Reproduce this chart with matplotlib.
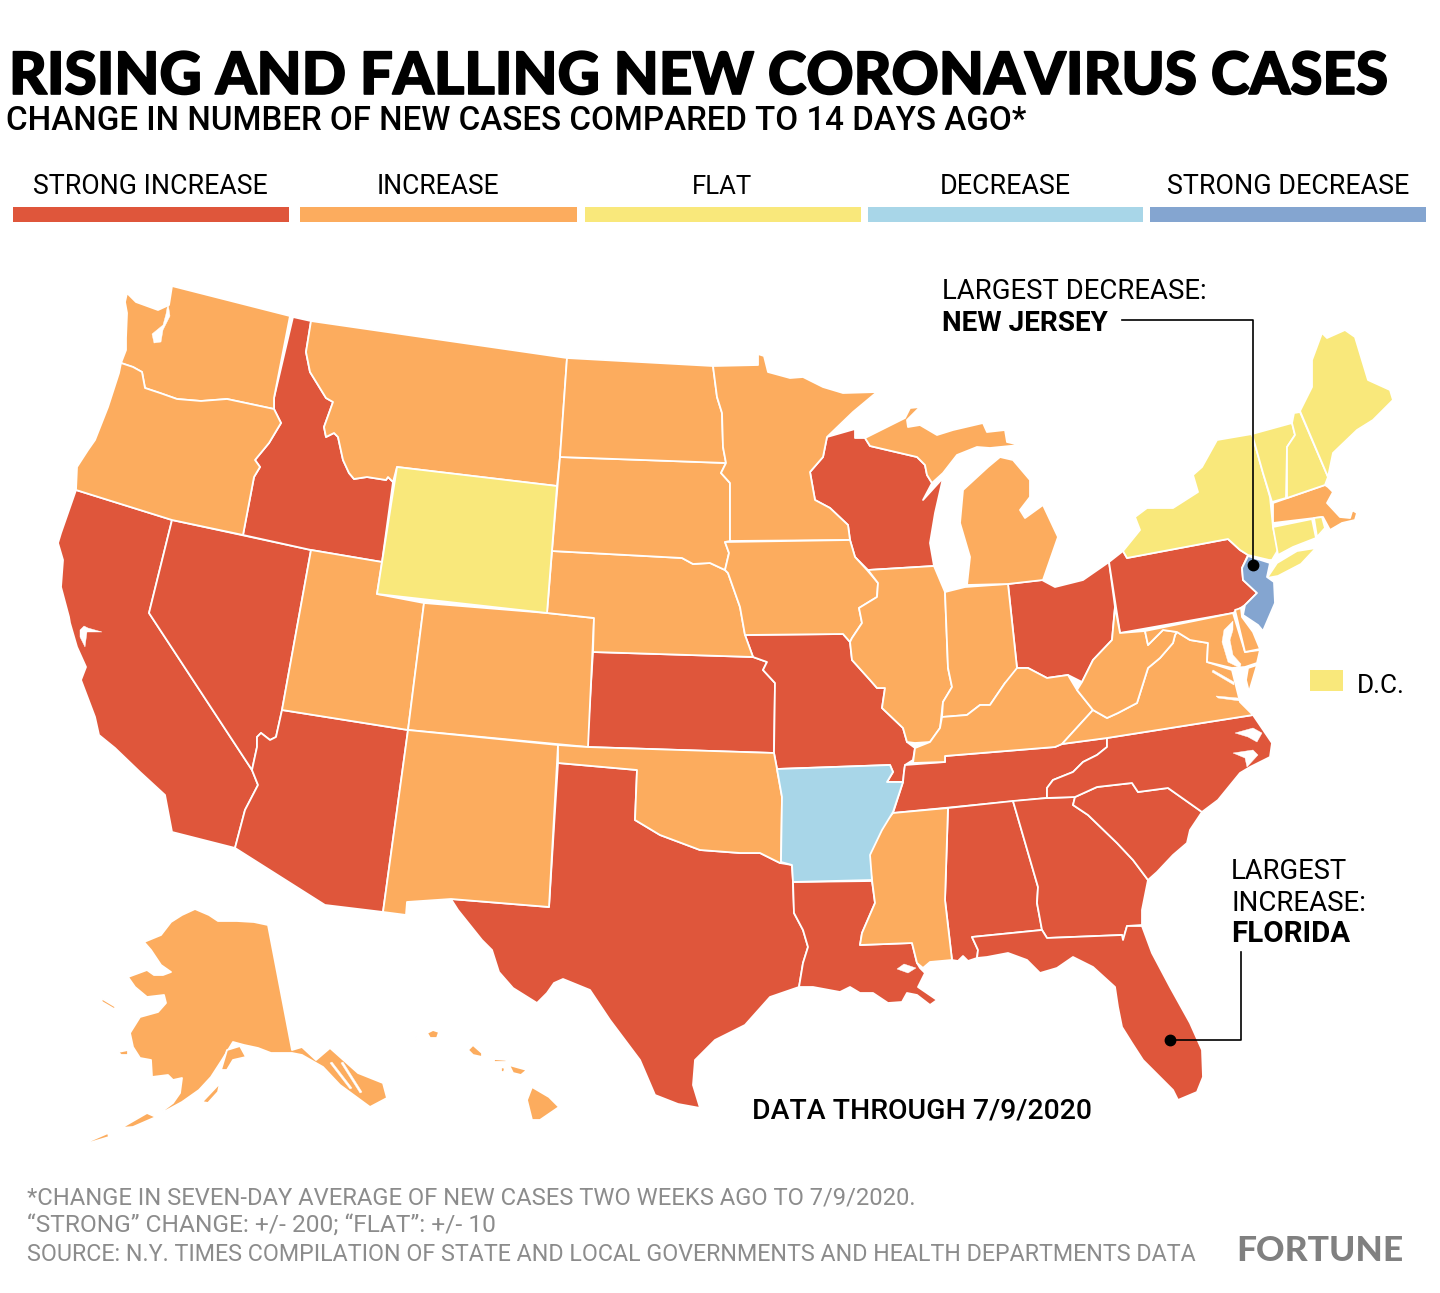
import matplotlib
matplotlib.use('Agg')
import matplotlib.pyplot as plt
import matplotlib.patheffects as pe

WA = [(127,293),(136,302),(158,310),(169,305),(172,286),
      (290,316),(274,398),(274,409),(227,399),(201,401),(177,399),(160,393),(145,388),(142,372),(133,367),(121,363),(126,350),(126,338),(127,313),(125,302)]
OR = [(121,363),(133,367),(142,372),(145,388),(160,393),(177,399),(201,401),(227,399),(274,409),(281,423),(269,443),(255,460),(260,467),(254,477),(243,535),
      (172,520),(76,490),(77,467),(88,450),(95,440),(108,407),(119,373)]
CA = [(76,490),(172,520),(149,613),(252,770),(258,785),(245,810),(235,848),(172,832),(165,795),(140,772),(115,748),(99,735),(95,717),(81,680),(86,667),(77,647),(70,623),(69,617),(61,587),(63,560),(58,543),(61,533)]
NV = [(172,520),(311,550),(282,710),(276,737),(270,740),(261,733),(257,737),(257,747),(252,770),(149,613)]
ID = [(293,317),(311,321),(306,352),(310,372),(326,398),(333,402),(324,427),(326,437),(334,433),(338,437),(343,460),(349,473),(354,479),(367,477),(386,480),(388,477),(393,482),
      (382,562),(311,550),(243,535),(254,477),(260,467),(255,460),(269,443),(281,423),(274,409),(274,398)]
MT = [(311,321),(567,358),(560,457),(557,486),(397,467),(393,482),(388,477),(386,480),(367,477),(354,479),(349,473),(343,460),(338,437),(334,433),(326,437),(324,427),(333,402),(326,398),(310,372),(306,352)]
WY = [(397,467),(557,486),(547,613),(377,594)]
UT = [(311,550),(382,562),(377,594),(424,603),(408,730),(282,710)]
CO = [(424,603),(547,613),(594,618),(588,747),(408,730)]
AZ = [(282,710),(408,730),(383,912),(325,905),(235,848),(245,810),(258,785),(252,770),(257,747),(257,737),(261,733),(270,740),(276,737)]
NM = [(408,730),(558,745),(549,907),(451,899),(407,902),(406,915),(383,912)]
TX = [(558,763),(637,770),(635,820),(660,835),(700,850),(740,853),(760,853),(780,863),(792,865),(793,882),(794,913),(803,930),(808,947),(803,963),(799,987),
      (770,997),(745,1025),(715,1040),(695,1060),(693,1085),(700,1108),(678,1104),(655,1095),(640,1060),(610,1020),(590,990),(563,979),(554,983),(547,993),(537,1003),(513,988),(499,972),(492,950),(482,940),(458,910),(451,899),(549,907)]
OK = [(558,745),(587,747),(774,753),(777,769),(782,797),(781,862),(780,863),(760,853),(740,853),(700,850),(660,835),(635,820),(637,770),(558,763)]
KS = [(593,652),(753,657),(767,662),(763,670),(775,683),(774,753),(587,747)]
NE = [(552,551),(682,558),(693,564),(710,563),(725,570),(728,573),(740,607),(745,635),(753,657),(593,652),(594,618),(547,613)]
SD = [(560,457),(726,463),(721,473),(730,483),(730,541),(725,542),(729,553),(725,570),(710,563),(693,564),(682,558),(552,551)]
ND = [(567,358),(713,366),(717,397),(722,413),(723,447),(726,463),(560,457)]
MN = [(713,366),(758,365),(758,354),(764,356),(768,372),(790,378),(803,377),(823,387),(843,393),(877,392),(853,412),(827,437),(823,457),(810,472),(815,500),(830,508),(848,525),(850,540),(730,541),(730,483),(721,473),(726,463),(723,447),(722,413),(717,397)]
IA = [(725,542),(850,540),(855,557),(867,570),(878,583),(877,597),(859,608),(862,623),(852,638),(850,642),(843,634),(745,635),(740,607),(728,573),(725,570),(729,553)]
MO = [(745,635),(843,634),(850,642),(852,660),(870,680),(877,688),(885,688),(882,708),(903,728),(907,742),(915,748),(913,760),(905,765),(904,772),(903,782),(887,782),(893,772),(890,765),(777,769),(774,753),(775,683),(763,670),(767,662),(753,657)]
AR = [(777,769),(890,765),(893,772),(887,782),(903,782),(893,812),(882,830),(870,855),(872,880),(793,882),(792,865),(781,862),(782,797)]
LA = [(793,882),(872,881),(875,903),(862,933),(860,945),(912,943),(917,963),(920,968),(925,973),(918,987),(937,1000),(930,1005),(917,995),(907,993),(902,1002),(888,1003),(873,993),(860,993),(850,987),(840,992),(813,987),(799,987),(803,963),(808,947),(803,930),(794,913)]
WI = [(827,437),(855,429),(855,438),(865,438),(870,446),(917,457),(925,465),(927,475),(932,483),(923,500),(943,478),(935,513),(930,543),(934,566),(868,570),(855,557),(850,540),(848,525),(830,508),(815,500),(810,472),(823,457)]
IL = [(868,570),(934,566),(945,592),(948,668),(952,687),(943,702),(940,728),(930,742),(915,743),(907,742),(903,728),(882,708),(885,688),(877,688),(870,680),(852,660),(850,642),(852,638),(862,623),(859,608),(877,597),(878,583)]
IN = [(945,592),(965,587),(1008,584),(1017,668),(1018,678),(1005,683),(990,705),(980,705),(967,715),(942,717),(943,702),(952,687),(948,668)]
MI_UP = [(865,438),(905,418),(910,408),(920,407),(907,420),(908,427),(920,425),(937,435),(953,430),(983,423),(987,432),(1005,430),(1007,442),(1020,445),(990,448),(977,447),(957,455),(943,473),(932,483),(927,475),(925,465),(917,457),(870,446)]
MI_LOW = [(967,585),(970,557),(960,523),(963,490),(988,467),(1000,457),(1013,460),(1030,480),(1030,497),(1020,510),(1025,518),(1043,505),(1058,537),(1043,580),(1008,584)]
OH = [(1008,584),(1042,580),(1055,587),(1083,580),(1109,562),(1115,607),(1112,640),(1093,660),(1082,682),(1068,675),(1047,678),(1028,668),(1017,668)]
KY = [(915,748),(930,742),(940,728),(942,717),(967,715),(980,705),(990,705),(1005,683),(1017,668),(1028,668),(1047,678),(1068,675),(1077,690),(1093,710),(1062,744),(1055,747),(945,756),(945,762),(913,763)]
TN = [(905,765),(945,762),(945,756),(1055,747),(1062,744),(1107,738),(1107,747),(1097,755),(1083,762),(1073,772),(1053,780),(1047,788),(1047,798),(893,813),(903,782),(904,772)]
MS = [(893,813),(948,808),(945,900),(952,960),(930,962),(923,968),(917,963),(912,943),(860,945),(862,933),(875,903),(872,880),(868,858),(873,845),(887,820)]
AL = [(948,808),(1013,801),(1038,887),(1037,903),(1042,930),(972,937),(978,950),(977,958),(968,961),(963,956),(958,961),(952,960),(945,900)]
GA = [(1013,801),(1047,798),(1075,797),(1073,805),(1088,815),(1117,843),(1133,860),(1148,880),(1142,910),(1142,925),(1127,926),(1123,940),(1122,935),(1047,938),(1042,930),(1037,903),(1038,887)]
FL = [(972,937),(1042,930),(1047,938),(1122,935),(1123,940),(1127,926),(1142,926),(1152,953),(1170,987),(1190,1023),(1202,1050),(1203,1077),(1197,1092),(1178,1100),(1173,1090),(1153,1070),(1143,1060),(1132,1043),(1122,1027),(1118,1007),(1115,987),(1093,967),(1073,957),(1057,968),(1040,973),(1027,960),(1008,953),(987,957),(977,958),(978,950)]
SC = [(1075,797),(1097,787),(1132,783),(1138,792),(1168,788),(1202,812),(1190,830),(1187,843),(1173,855),(1157,872),(1148,880),(1133,860),(1117,843),(1088,815),(1073,805)]
NC = [(1107,738),(1253,715),(1272,743),(1270,757),(1250,767),(1240,773),(1218,800),(1202,812),(1168,788),(1138,792),(1132,783),(1097,787),(1075,797),(1047,798),(1047,788),(1053,780),(1073,772),(1083,762),(1097,755),(1107,747)]
VA = [(1177,632),(1190,640),(1208,643),(1207,662),(1232,670),(1237,690),(1240,702),(1253,715),(1107,738),(1062,744),(1093,710),(1107,718),(1118,713),(1137,703),(1148,668),(1160,658),(1173,643),(1175,635)]
VA_SHORE = [(1257,665),(1249,692),(1246,680),(1248,668)]
WV = [(1115,607),(1120,633),(1145,631),(1148,645),(1163,630),(1177,632),(1175,635),(1173,643),(1160,658),(1148,668),(1137,703),(1118,713),(1107,718),(1093,710),(1077,690),(1082,682),(1093,660),(1112,640)]
MD = [(1145,631),(1233,613),(1245,652),(1260,650),(1257,663),(1245,667),(1232,668),(1207,662),(1208,643),(1190,640),(1177,632),(1163,630),(1148,645)]
DE = [(1235,610),(1241,608),(1242,617),(1253,632),(1260,649),(1245,652)]
PA = [(1109,562),(1123,551),(1127,558),(1228,539),(1240,550),(1248,555),(1242,568),(1243,580),(1257,593),(1245,605),(1233,613),(1120,633)]
NJ = [(1248,556),(1270,563),(1267,577),(1274,582),(1275,603),(1263,631),(1258,625),(1243,615),(1245,605),(1257,593),(1243,580),(1242,568)]
NY = [(1127,558),(1123,551),(1140,530),(1135,517),(1147,508),(1173,508),(1198,492),(1193,475),(1202,467),(1217,440),(1252,434),(1263,473),(1270,497),(1273,527),(1278,550),(1272,560),(1269,560),(1248,555),(1240,550),(1228,539)]
LONG_ISLAND = [(1316,548),(1297,551),(1277,563),(1267,578),(1278,576),(1301,564)]
VT = [(1252,434),(1292,423),(1295,435),(1287,447),(1286,498),(1272,502),(1263,473)]
NH = [(1294,413),(1300,412),(1328,477),(1325,485),(1287,498),(1287,447),(1295,435),(1292,423)]
ME = [(1300,411),(1312,387),(1312,360),(1322,333),(1327,338),(1345,330),(1355,337),(1368,380),(1390,390),(1393,400),(1373,420),(1357,430),(1333,453),(1328,477)]
MA = [(1273,503),(1325,485),(1328,487),(1333,492),(1327,503),(1340,517),(1350,518),(1353,508),(1347,507),(1357,513),(1355,520),(1342,523),(1330,530),(1323,517),(1273,523)]
CT = [(1273,527),(1312,519),(1316,538),(1293,547),(1278,555)]
RI = [(1314,518),(1322,517),(1325,528),(1317,537)]
AK = [(195,909),(209,915),(218,921),(237,921),(254,922),(268,925),(292,1050),(302,1047),(316,1060),(330,1048),(358,1073),(383,1083),(387,1098),(370,1107),(340,1085),(323,1067),(302,1055),(292,1053),(271,1053),(258,1048),(244,1045),(233,1042),(222,1060),(211,1077),(199,1090),(182,1102),(158,1115),(156,1118),(161,1112),(173,1103),(180,1093),(182,1078),(173,1080),(168,1075),(152,1077),(151,1060),(140,1058),(133,1047),(130,1033),(140,1017),(158,1012),(166,1003),(164,995),(147,997),(135,987),(128,977),(147,970),(154,975),(163,975),(171,972),(161,965),(151,950),(144,942),(161,935),(171,922),(182,915)]
AK_KODIAK = [(202,1102),(220,1083),(218,1092),(208,1103)]
AK_KENAI = [(221,1070),(227,1050),(240,1046),(246,1057),(233,1060),(227,1070)]
AK_ALEUT_1 = [(121,1128),(147,1113),(156,1117),(133,1127)]
AK_ALEUT_2 = [(85,1143),(108,1133),(109,1137),(89,1143)]
AK_LAWRENCE = [(101,998),(116,1007),(114,1009),(102,1002)]
AK_NUNIVAK = [(118,1052),(128,1050),(128,1055),(121,1055)]
HI_BIG = [(532,1087),(549,1097),(559,1107),(540,1120),(532,1120),(527,1100)]
HI_MAUI = [(509,1065),(527,1070),(521,1075),(513,1073)]
HI_MOLOKAI = [(494,1059),(507,1060),(506,1062),(494,1062)]
HI_LANAI = [(501,1067),(505,1068),(504,1072),(501,1072)]
HI_OAHU = [(468,1050),(473,1045),(482,1053),(482,1057),(473,1055)]
HI_KAUAI = [(427,1033),(433,1030),(439,1032),(437,1038),(430,1038)]
HI_NIIHAU = [(413,1040),(418,1036),(418,1038),(414,1041)]

# bays and lakes cut out of the states
PUGET = [(168,303),(170,316),(163,330),(161,342),(154,343),(152,334),(163,325),(166,314)]
SF_BAY = [(80,630),(84,626),(88,628),(102,632),(87,632),(85,647),(80,637)]
PONTCHARTRAIN = [(897,969),(904,964),(916,968),(908,973)]
CHESAPEAKE = [(1233,621),(1224,630),(1222,642),(1228,662),(1240,668),(1241,664),(1233,655),(1230,640),(1233,630)]
POTOMAC = [(1213,670),(1234,682),(1234,685),(1212,672)]
RAPPAHANNOCK = [(1216,696),(1238,698),(1240,701),(1218,698)]
ALBEMARLE = [(1235,733),(1253,728),(1262,733),(1257,742),(1248,737)]
PAMLICO = [(1233,753),(1253,750),(1258,755),(1247,767),(1245,758)]
AK_FJORD_1 = [(332,1062),(352,1088),(350,1089),(330,1063)]
AK_FJORD_2 = [(343,1062),(362,1092),(360,1093),(341,1063)]
water = [PUGET, SF_BAY, PONTCHARTRAIN, CHESAPEAKE, POTOMAC, RAPPAHANNOCK, ALBEMARLE, PAMLICO, AK_FJORD_1, AK_FJORD_2]

strong_inc = [CA, NV, ID, AZ, TX, KS, MO, LA, WI, OH, PA, TN, AL, GA, FL, SC, NC]
increase = [WA, OR, MT, UT, CO, NM, OK, NE, SD, ND, MN, IA, IL, IN, MI_UP, MI_LOW, KY, MS, VA, VA_SHORE, WV, MD, DE, MA, AK, AK_KODIAK, AK_KENAI,
            AK_ALEUT_1, AK_ALEUT_2, AK_LAWRENCE, AK_NUNIVAK, HI_BIG, HI_MAUI, HI_MOLOKAI, HI_LANAI, HI_OAHU, HI_KAUAI, HI_NIIHAU]
flat = [WY, NY, LONG_ISLAND, VT, NH, ME, CT, RI]
decrease = [AR]
strong_dec = [NJ]

legend_labels = ['STRONG INCREASE', 'INCREASE', 'FLAT', 'DECREASE', 'STRONG DECREASE']
legend_colors = ['#DF563B', '#FCAC5E', '#F9E87B', '#A8D6E8', '#84A5D0']
legend_left = [13, 300, 585, 868, 1150]
legend_right = [289, 577, 861, 1143, 1426]
legend_text_left = [33, 377, 694, 940, 1167]
legend_text_right = [268, 500, 751, 1071, 1409]

footnotes = ['*CHANGE IN SEVEN-DAY AVERAGE OF NEW CASES TWO WEEKS AGO TO 7/9/2020.',
             '“STRONG” CHANGE: +/- 200; “FLAT”: +/- 10',
             'SOURCE: N.Y. TIMES COMPILATION OF STATE AND LOCAL GOVERNMENTS AND HEALTH DEPARTMENTS DATA']
footnote_right = [917, 495, 1199]
footnote_base = [1204, 1233, 1261]

fig = plt.figure(figsize=(14.4, 12.93), dpi=100)
ax = fig.add_axes([0, 0, 1, 1])
ax.set_xlim(0, 1440)
ax.set_ylim(1293, 0)
ax.axis('off')
rend = fig.canvas.get_renderer()


def fit_text(left, right, base, s, family='Roboto', weight='normal', color='black'):
    """puts s on baseline base and sizes it so it runs from left to right"""
    t = ax.text(left, base, s, family=family, weight=weight, color=color, fontsize=20, va='baseline', ha='left')
    w = t.get_window_extent(rend).width
    t.set_fontsize(20 * (right - left) / w)
    return t


for group, color in zip([strong_inc, increase, flat, decrease, strong_dec], legend_colors):
    for outline in group:
        ax.fill(*zip(*outline), facecolor=color, edgecolor='white', linewidth=1.3, joinstyle='round')
for outline in water:
    ax.fill(*zip(*outline), facecolor='white', edgecolor='white', linewidth=0.3)

# header
title = fit_text(9, 1389, 94, 'RISING AND FALLING NEW CORONAVIRUS CASES', family='Lato', weight='black')
title.set_path_effects([pe.withStroke(linewidth=1.2, foreground='black')])
fit_text(6, 1025, 130, 'CHANGE IN NUMBER OF NEW CASES COMPARED TO 14 DAYS AGO*', weight='medium')

for i in range(len(legend_labels)):
    ax.fill_between([legend_left[i], legend_right[i]], 207, 222, color=legend_colors[i], linewidth=0)
    if legend_labels[i] == 'FLAT':
        # too short to fit by width, goes at the size of its neighbours
        ax.text((legend_text_left[i] + legend_text_right[i]) / 2, 194, legend_labels[i], family='Roboto',
                fontsize=18.5, va='baseline', ha='center')
    else:
        fit_text(legend_text_left[i], legend_text_right[i], 194, legend_labels[i])

# callouts
fit_text(942, 1206, 299, 'LARGEST DECREASE:')
fit_text(942, 1108, 331, 'NEW JERSEY', weight='bold')
ax.plot([1122, 1253, 1253], [320, 320, 565], color='black', lw=1.2)
ax.plot(1253, 565, 'o', color='black', ms=7.5)

fit_text(1231, 1347, 879, 'LARGEST')
fit_text(1231, 1366, 911, 'INCREASE:')
fit_text(1231, 1350, 942, 'FLORIDA', weight='bold')
ax.plot([1241, 1241, 1170], [952, 1040, 1040], color='black', lw=1.2)
ax.plot(1170, 1040, 'o', color='black', ms=7.5)

ax.fill_between([1310, 1343], 670, 691, color=legend_colors[2], linewidth=0)
fit_text(1357, 1405, 693, 'D.C.')

fit_text(752, 1091, 1118, 'DATA THROUGH 7/9/2020', weight='medium')

# footer
for line, right, base in zip(footnotes, footnote_right, footnote_base):
    fit_text(27, right, base, line, color='#8C8C8C')
fit_text(1236, 1403, 1261, 'FORTUNE', family='Lato', weight='black', color='#808080')

fig.savefig('out.png', dpi=100)
